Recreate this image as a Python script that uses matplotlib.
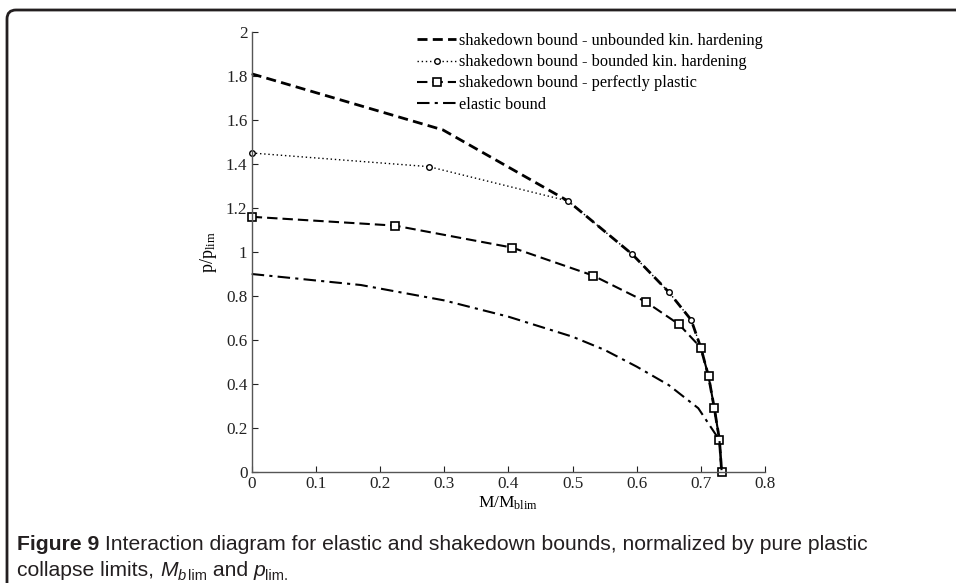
import matplotlib
matplotlib.use("Agg")
import matplotlib.pyplot as plt
from matplotlib.patches import FancyBboxPatch

plt.rcParams['font.family'] = ['Liberation Serif', 'DejaVu Serif']
plt.rcParams['mathtext.fontset'] = 'custom'
plt.rcParams['mathtext.rm'] = 'Liberation Serif'
plt.rcParams['mathtext.it'] = 'Liberation Serif:italic'

# ---- data ----
unb_x = [0.0, 0.298, 0.493, 0.593, 0.650, 0.685, 0.700, 0.712, 0.721, 0.729, 0.7325]
unb_y = [1.81, 1.555, 1.232, 0.99, 0.818, 0.691, 0.565, 0.435, 0.29, 0.147, 0.0]

bnd_x = [0.0, 0.276, 0.493, 0.593, 0.650, 0.685, 0.700, 0.712, 0.721, 0.729, 0.7325]
bnd_y = [1.45, 1.388, 1.232, 0.99, 0.818, 0.691, 0.565, 0.435, 0.29, 0.147, 0.0]

pp_x = [0.0, 0.223, 0.406, 0.532, 0.614, 0.666, 0.700, 0.712, 0.721, 0.729, 0.7325]
pp_y = [1.16, 1.12, 1.02, 0.893, 0.774, 0.671, 0.565, 0.435, 0.29, 0.147, 0.0]

el_x = [0.0, 0.17, 0.30, 0.40, 0.50, 0.55, 0.60, 0.65, 0.696, 0.729, 0.7325]
el_y = [0.90, 0.85, 0.78, 0.706, 0.615, 0.555, 0.479, 0.395, 0.29, 0.145, 0.0]

series_labels = ["shakedown bound - unbounded kin. hardening",
                 "shakedown bound - bounded kin. hardening",
                 "shakedown bound - perfectly plastic",
                 "elastic bound"]

x_ticks = [0, 0.1, 0.2, 0.3, 0.4, 0.5, 0.6, 0.7, 0.8]
x_tick_labels = ["0", "0.1", "0.2", "0.3", "0.4", "0.5", "0.6", "0.7", "0.8"]
y_ticks = [0, 0.2, 0.4, 0.6, 0.8, 1.0, 1.2, 1.4, 1.6, 1.8, 2.0]
y_tick_labels = ["0", "0.2", "0.4", "0.6", "0.8", "1", "1.2", "1.4", "1.6", "1.8", "2"]

caption_bold = "Figure 9"
caption_rest = " Interaction diagram for elastic and shakedown bounds, normalized by pure plastic"

# ---- figure ----
W, H = 956, 583
fig = plt.figure(figsize=(W / 100, H / 100), dpi=100)

box = FancyBboxPatch((0.07, -0.5), 10.0, (H - 10) / 100 + 0.5,
                     boxstyle="round,pad=0,rounding_size=0.09",
                     transform=fig.dpi_scale_trans, fill=False,
                     edgecolor="#231f20", linewidth=2.0, clip_on=False)
fig.patches.append(box)

ax = fig.add_axes([251.7 / W, 1 - 472 / H, (765 - 251.7) / W, (472 - 32) / H])

ax.plot(unb_x, unb_y, color='black', linestyle=(0, (3.6, 1.9)), linewidth=2.0,
        label=series_labels[0], clip_on=False)
ax.plot(bnd_x, bnd_y, color='black', linestyle=(0, (1, 2)), linewidth=1.0,
        marker='o', markersize=4, markerfacecolor='white', markeredgewidth=1.0,
        label=series_labels[1], clip_on=False)
ax.plot(pp_x, pp_y, color='black', linestyle=(0, (5, 2.4)), linewidth=1.5,
        marker='s', markersize=6, markerfacecolor='white', markeredgewidth=1.2,
        label=series_labels[2], clip_on=False)
ax.plot(el_x, el_y, color='black', linestyle=(0, (6, 2.5, 1.5, 2.5)), linewidth=1.5,
        label=series_labels[3], clip_on=False)

ax.set_xlim(0, 0.8)
ax.set_ylim(0, 2)
ax.set_xticks(x_ticks)
ax.set_xticklabels(x_tick_labels)
ax.set_yticks(y_ticks)
ax.set_yticklabels(y_tick_labels)
ax.tick_params(direction='in', length=4, width=0.8, labelsize=12.3, colors='#222222', pad=3)
for s in ['top', 'right']:
    ax.spines[s].set_visible(False)
for s in ['left', 'bottom']:
    ax.spines[s].set_color('#555555')
    ax.spines[s].set_linewidth(1.0)

ax.set_xlabel("M/M$_{\\mathrm{blim}}$", fontsize=12.5, labelpad=2)
ax.set_ylabel("p/p$_{\\mathrm{lim}}$", fontsize=13, labelpad=5)

leg = ax.legend(loc='upper left', bbox_to_anchor=(417 / W, 1 - 33 / H),
                bbox_transform=fig.transFigure, frameon=False, fontsize=11.8,
                handlelength=2.4, handletextpad=0.15, labelspacing=0.32,
                borderaxespad=0, borderpad=0)

# ---- caption ----
cap_fam = ['Liberation Sans', 'DejaVu Sans']
cap_col = '#231f20'
cs = 15.2
fig.canvas.draw()
renderer = fig.canvas.get_renderer()


def put(x_px, y_px, s, size=cs, **kw):
    t = fig.text(x_px / W, 1 - y_px / H, s, fontsize=size, family=cap_fam,
                 color=cap_col, va='baseline', **kw)
    return t.get_window_extent(renderer=renderer).x1


y1, y2 = 550, 576
x = put(17, y1, caption_bold, fontweight='bold')
put(x, y1, caption_rest)

x = put(17, y2, "collapse limits, ")
x = put(x, y2, "M", style='italic')
x = put(x, y2 + 4, "b", size=cs * 0.7, style='italic')
x = put(x + 2, y2 + 4, "lim", size=cs * 0.7)
x = put(x, y2, " and ")
x = put(x, y2, "p", style='italic')
x = put(x, y2 + 4, "lim.", size=cs * 0.7)

fig.savefig("out.png", dpi=100)
